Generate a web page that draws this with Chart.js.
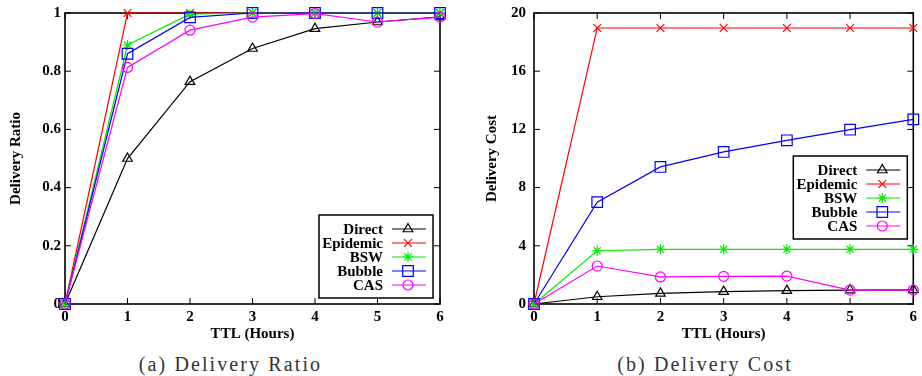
<!DOCTYPE html>
<html>
<head>
<meta charset="utf-8">
<script src="https://cdn.jsdelivr.net/npm/chart.js@4.4.0/dist/chart.umd.min.js"></script>
<style>
body { margin: 0; background: #fff; }
#wrap { position: relative; width: 922px; height: 376px; }
.panel { position: absolute; top: 0; }
.cap { position: absolute; top: 353px; font-family: "Liberation Serif", serif; font-size: 20px; color: #333; text-align: center; letter-spacing: 2.1px; }
</style>
</head>
<body>
<div id="wrap">
  <canvas id="ratio" class="panel" width="461" height="345" style="left:0"></canvas>
  <canvas id="cost" class="panel" width="460" height="345" style="left:462px"></canvas>
  <div class="cap" style="left:0;width:461px">(a) Delivery Ratio</div>
  <div class="cap" style="left:475px;width:460px">(b) Delivery Cost</div>
</div>
<script>
// TTL in hours
const ttl = [0, 1, 2, 3, 4, 5, 6];
const names = ['Direct', 'Epidemic', 'BSW', 'Bubble', 'CAS'];
const colors = ['#000000', '#ff0000', '#00ee00', '#0000ff', '#ff00ff'];
const markers = ['triangle', 'crossRot', 'star', 'rect', 'circle'];
const markerSize = [5.5, 5.5, 5, 7.5, 5];

// (a) delivery ratio
const ratioDirect   = [0, 0.50, 0.764, 0.878, 0.946, 0.969, 0.987];
const ratioEpidemic = [0, 1, 1, 1, 1, 1, 1];
const ratioBSW      = [0, 0.89, 0.996, 1, 1, 1, 1];
const ratioBubble   = [0, 0.86, 0.985, 1, 1, 1, 1];
const ratioCAS      = [0, 0.813, 0.941, 0.986, 0.998, 0.969, 0.986];
const ratioTicks = ['0', '0.2', '0.4', '0.6', '0.8', '1'];

// (b) delivery cost
const costDirect   = [0, 0.5, 0.73, 0.85, 0.92, 0.96, 0.97];
const costEpidemic = [0, 18.97, 18.97, 18.97, 18.97, 18.97, 18.97];
const costBSW      = [0, 3.66, 3.76, 3.76, 3.76, 3.76, 3.76];
const costBubble   = [0, 7.0, 9.42, 10.45, 11.25, 11.98, 12.69];
const costCAS      = [0, 2.61, 1.86, 1.9, 1.92, 0.96, 0.96];
const costTicks = ['0', '4', '8', '12', '16', '20'];

const FONT = '"Liberation Serif", "Times New Roman", serif';

function makeSets(series) {
  return series.map((vals, i) => ({
    label: names[i],
    data: vals.map((v, k) => ({x: ttl[k], y: v})),
    borderColor: colors[i],
    pointBorderColor: colors[i],
    pointBackgroundColor: 'rgba(0,0,0,0)',
    pointStyle: markers[i],
    pointRadius: markerSize[i],
    pointBorderWidth: 1.2,
    borderWidth: 1.2,
    order: 5 - i,
    clip: false
  }));
}

// frame and inward ticks on all four sides
const framePlugin = {
  id: 'frame',
  beforeDatasetsDraw(chart) {
    const {ctx, chartArea: a, scales: {x, y}} = chart;
    ctx.save();
    ctx.strokeStyle = '#000';
    ctx.lineWidth = 1;
    ctx.beginPath();
    x.ticks.forEach((t, i) => {
      const px = x.getPixelForTick(i);
      ctx.moveTo(px, a.bottom); ctx.lineTo(px, a.bottom - 6);
      ctx.moveTo(px, a.top); ctx.lineTo(px, a.top + 6);
    });
    y.ticks.forEach((t, i) => {
      const py = y.getPixelForTick(i);
      ctx.moveTo(a.left, py); ctx.lineTo(a.left + 6, py);
      ctx.moveTo(a.right, py); ctx.lineTo(a.right - 6, py);
    });
    ctx.stroke();
    ctx.lineWidth = 1.6;
    ctx.strokeRect(a.left, a.top, a.right - a.left, a.bottom - a.top);
    ctx.restore();
  }
};

// gnuplot style key: text right-aligned, sample line + marker on the right
const keyPlugin = {
  id: 'key',
  afterDraw(chart, args, opts) {
    const {ctx, chartArea: a} = chart;
    const w = 114, h = 83;
    const left = a.right - opts.right - w;
    const top = opts.top != null ? a.top + opts.top : a.bottom - opts.bottom - h;
    ctx.save();
    ctx.fillStyle = '#fff';
    ctx.fillRect(left, top, w, h);
    ctx.strokeStyle = '#000';
    ctx.lineWidth = 1.5;
    ctx.strokeRect(left, top, w, h);
    ctx.font = 'bold 15px ' + FONT;
    ctx.textAlign = 'right';
    ctx.textBaseline = 'middle';
    chart.data.datasets.forEach((ds, i) => {
      const yy = top + 14 + i * 14;
      ctx.fillStyle = '#000';
      ctx.fillText(ds.label, left + 64, yy + 1);
      ctx.strokeStyle = ds.borderColor;
      ctx.lineWidth = 1.2;
      ctx.beginPath();
      ctx.moveTo(left + 73, yy); ctx.lineTo(left + 107, yy);
      ctx.stroke();
      ctx.fillStyle = 'rgba(0,0,0,0)';
      Chart.helpers.drawPoint(ctx, {pointStyle: ds.pointStyle, radius: ds.pointRadius, rotation: 0, borderWidth: 1.2}, left + 89, yy);
    });
    ctx.restore();
  }
};

function makeChart(id, series, yMax, yStep, yTicks, yTitle, yWidth, titlePad, tickPad, padRight, key) {
  return new Chart(document.getElementById(id), {
    type: 'line',
    data: {datasets: makeSets(series)},
    plugins: [framePlugin, keyPlugin],
    options: {
      responsive: false,
      animation: false,
      layout: {padding: {top: 13, right: padRight, left: 0, bottom: 0}},
      plugins: {legend: {display: false}, tooltip: {enabled: false}, key: key},
      scales: {
        x: {
          type: 'linear', min: 0, max: 6,
          grid: {display: false, drawTicks: false},
          border: {display: false},
          ticks: {stepSize: 1, padding: 4, color: '#000', font: {family: FONT, size: 15, weight: 'bold'}},
          title: {display: true, text: 'TTL (Hours)', color: '#000', padding: {top: 0, bottom: 2}, font: {family: FONT, size: 15, weight: 'bold'}},
          afterFit(s) { s.height = 41; }
        },
        y: {
          min: 0, max: yMax,
          grid: {display: false, drawTicks: false},
          border: {display: false},
          ticks: {stepSize: yStep, padding: tickPad, color: '#000', font: {family: FONT, size: 15, weight: 'bold'},
            callback: (v, i) => yTicks[i]},
          title: {display: true, text: yTitle, color: '#000', padding: {top: titlePad, bottom: 0}, font: {family: FONT, size: 15, weight: 'bold'}},
          afterFit(s) { s.width = yWidth; s.paddingTop = 0; s.paddingBottom = 0; }
        }
      }
    }
  });
}

makeChart('ratio', [ratioDirect, ratioEpidemic, ratioBSW, ratioBubble, ratioCAS],
  1, 0.2, ratioTicks, 'Delivery Ratio', 65, 7, 4, 21, {right: 7, bottom: 6});
makeChart('cost', [costDirect, costEpidemic, costBSW, costBubble, costCAS],
  20, 4, costTicks, 'Delivery Cost', 72, 21, 8, 6, {right: 6, top: 143});
</script>
</body>
</html>
